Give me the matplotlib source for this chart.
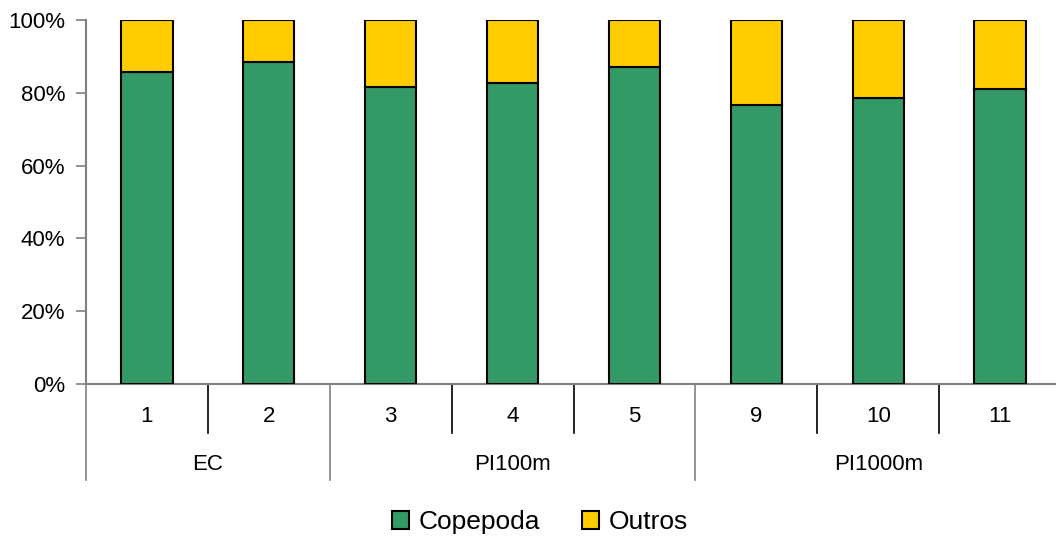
import matplotlib
matplotlib.use("Agg")
import matplotlib.pyplot as plt
import matplotlib.transforms as mtransforms
import numpy as np

plt.rcParams['font.family'] = ['Liberation Sans', 'DejaVu Sans']

stations = ["1", "2", "3", "4", "5", "9", "10", "11"]
groups = ["EC", "PI100m", "PI1000m"]
group_sizes = [2, 3, 3]
copepoda = [85.6, 88.5, 81.6, 82.6, 87.0, 76.6, 78.6, 81.1]
outros = [100 - c for c in copepoda]

W, H = 1056, 539
fig = plt.figure(figsize=(W / 100, H / 100), dpi=100)
left_px, right_px, top_px, bot_px = 86, 1061, 20, 384
ax = fig.add_axes([left_px / W, 1 - bot_px / H, (right_px - left_px) / W, (bot_px - top_px) / H])

green = "#339966"
yellow = "#FFCC00"
x = np.arange(len(stations))
bw = 0.42
ax.bar(x, copepoda, bw, color=green, edgecolor="black", linewidth=1.5, label="Copepoda", zorder=3)
ax.bar(x, outros, bw, bottom=copepoda, color=yellow, edgecolor="black", linewidth=1.5, label="Outros", zorder=3)

ax.set_xlim(-0.5, len(stations) - 0.5)
ax.set_ylim(0, 100)
ax.set_yticks([0, 20, 40, 60, 80, 100])
ax.set_yticklabels([f"{v}%" for v in [0, 20, 40, 60, 80, 100]])
ax.tick_params(axis='y', length=7, width=1.2, color="#808080", pad=8, labelsize=16)
ax.set_xticks([])
for s in ["top", "right"]:
    ax.spines[s].set_visible(False)
ax.spines["left"].set_color("#808080")
ax.spines["left"].set_linewidth(1.5)
ax.spines["bottom"].set_color("#808080")
ax.spines["bottom"].set_linewidth(1.5)

trans = mtransforms.blended_transform_factory(ax.transData, ax.transAxes)
axes_h_px = bot_px - top_px
def ya(px_below):
    return -px_below / axes_h_px

for i, s in enumerate(stations):
    ax.text(i, ya(33), s, transform=trans, ha="center", va="center", fontsize=16)

group_bounds = np.concatenate([[0], np.cumsum(group_sizes)]) - 0.5
for b in np.arange(len(stations) + 1) - 0.5:
    is_group = np.any(np.isclose(group_bounds, b))
    depth = 96 if is_group else 49
    ax.plot([b, b], [0, ya(depth)], transform=trans, color="#808080" if is_group else "black",
            lw=1.2, clip_on=False)

for gi, g in enumerate(groups):
    c = (group_bounds[gi] + group_bounds[gi + 1]) / 2
    ax.text(c, ya(80), g, transform=trans, ha="center", va="center", fontsize=16)

leg = fig.legend(loc="center", bbox_to_anchor=(540 / W, 1 - 522 / H), ncol=2, frameon=False,
                 fontsize=19, handlelength=0.65, handleheight=0.65, handletextpad=0.35,
                 columnspacing=1.6)

fig.savefig("out.png", dpi=100)
